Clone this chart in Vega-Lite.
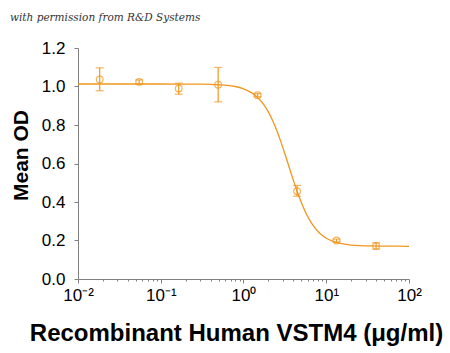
{
  "$schema": "https://vega.github.io/schema/vega-lite/v6.json",
  "width": 331,
  "height": 231,
  "autosize": {"type": "none"},
  "padding": {"left": 78, "top": 48, "right": 41, "bottom": 74},
  "background": "white",
  "title": {
    "text": "with permission from R&D Systems",
    "anchor": "start",
    "frame": "group",
    "dx": -68,
    "offset": 16,
    "font": "DejaVu Serif",
    "fontStyle": "italic",
    "fontWeight": "normal",
    "fontSize": 10.5,
    "color": "#333333"
  },
  "config": {
    "view": {"stroke": null},
    "axis": {
      "grid": false,
      "domainColor": "#808080",
      "tickColor": "#808080",
      "labelFont": "Liberation Sans",
      "titleFont": "Liberation Sans",
      "labelColor": "#000000",
      "titleColor": "#000000"
    }
  },
  "datasets": {
    "curve": [
      {"c": 0.01, "od": 1.013},
      {"c": 0.0316, "od": 1.013},
      {"c": 0.1, "od": 1.013},
      {"c": 0.2512, "od": 1.012},
      {"c": 0.3162, "od": 1.012},
      {"c": 0.3981, "od": 1.011},
      {"c": 0.5012, "od": 1.009},
      {"c": 0.631, "od": 1.006},
      {"c": 0.7943, "od": 1.0},
      {"c": 1.0, "od": 0.988},
      {"c": 1.122, "od": 0.979},
      {"c": 1.259, "od": 0.967},
      {"c": 1.413, "od": 0.951},
      {"c": 1.585, "od": 0.93},
      {"c": 1.778, "od": 0.903},
      {"c": 1.995, "od": 0.868},
      {"c": 2.239, "od": 0.825},
      {"c": 2.512, "od": 0.774},
      {"c": 2.818, "od": 0.715},
      {"c": 3.162, "od": 0.651},
      {"c": 3.548, "od": 0.583},
      {"c": 3.981, "od": 0.516},
      {"c": 4.467, "od": 0.453},
      {"c": 5.012, "od": 0.396},
      {"c": 5.623, "od": 0.347},
      {"c": 6.31, "od": 0.306},
      {"c": 7.079, "od": 0.273},
      {"c": 7.943, "od": 0.247},
      {"c": 8.913, "od": 0.227},
      {"c": 10.0, "od": 0.212},
      {"c": 12.59, "od": 0.193},
      {"c": 15.85, "od": 0.182},
      {"c": 19.95, "od": 0.176},
      {"c": 25.12, "od": 0.173},
      {"c": 31.62, "od": 0.172},
      {"c": 50.12, "od": 0.171},
      {"c": 100.0, "od": 0.17}
    ],
    "pts": [
      {"c": 0.0183, "od": 1.036, "lo": 0.978, "hi": 1.097},
      {"c": 0.0549, "od": 1.024, "lo": 1.014, "hi": 1.034},
      {"c": 0.165, "od": 0.99, "lo": 0.96, "hi": 1.017},
      {"c": 0.494, "od": 1.009, "lo": 0.92, "hi": 1.099},
      {"c": 1.48, "od": 0.955, "lo": 0.947, "hi": 0.963},
      {"c": 4.44, "od": 0.456, "lo": 0.43, "hi": 0.486},
      {"c": 13.3, "od": 0.2, "lo": 0.193, "hi": 0.207},
      {"c": 40.0, "od": 0.172, "lo": 0.155, "hi": 0.188}
    ]
  },
  "layer": [
    {
      "data": {"name": "pts"},
      "mark": {"type": "point", "shape": "circle", "filled": false, "color": "#F0961E", "size": 45, "strokeWidth": 1.2},
      "encoding": {
        "x": {
          "field": "c",
          "type": "quantitative",
          "title": "Recombinant Human VSTM4 (μg/ml)",
          "scale": {"type": "log", "domain": [0.01, 100], "nice": false},
          "axis": {
            "title": "Recombinant Human VSTM4 (μg/ml)",
            "titleFontSize": 24,
            "titleFontWeight": "bold",
            "titlePadding": 18,
            "titleX": 158,
            "values": [0.01, 0.02, 0.03, 0.04, 0.05, 0.06, 0.07, 0.08, 0.09, 0.1, 0.2, 0.3, 0.4, 0.5, 0.6, 0.7, 0.8, 0.9, 1, 2, 3, 4, 5, 6, 7, 8, 9, 10, 20, 30, 40, 50, 60, 70, 80, 90, 100],
            "labelExpr": "datum.value == 0.01 ? '10⁻²' : datum.value == 0.1 ? '10⁻¹' : datum.value == 1 ? '10⁰' : datum.value == 10 ? '10¹' : datum.value == 100 ? '10²' : ''",
            "labelOverlap": false,
            "labelBound": false,
            "labelFlush": false,
            "labelFontSize": 17,
            "labelPadding": 4,
            "tickSize": {"condition": {"test": "indexof([0.01,0.1,1,10,100], datum.value) >= 0", "value": 4}, "value": 2}
          }
        },
        "y": {
          "field": "od",
          "type": "quantitative",
          "title": "Mean OD",
          "scale": {"type": "linear", "domain": [0, 1.2], "nice": false, "zero": true},
          "axis": {
            "title": "Mean OD",
            "titleFontSize": 21,
            "titleFontWeight": "bold",
            "titlePadding": 10,
            "titleY": 107,
            "tickCount": 7,
            "values": [0, 0.2, 0.4, 0.6, 0.8, 1, 1.2],
            "format": ".1f",
            "labelOverlap": false,
            "labelFlush": false,
            "labelBound": false,
            "labelSeparation": 0,
            "labelFontSize": 17,
            "labelPadding": 9,
            "tickSize": 4
          }
        }
      }
    },
    {
      "data": {"name": "curve"},
      "mark": {"type": "line", "color": "#F0961E", "strokeWidth": 1.3, "interpolate": "monotone"},
      "encoding": {
        "x": {"field": "c", "type": "quantitative", "title": "Recombinant Human VSTM4 (μg/ml)"},
        "y": {"field": "od", "type": "quantitative", "title": "Mean OD"}
      }
    },
    {
      "data": {"name": "pts"},
      "mark": {"type": "rule", "color": "#F0961E", "strokeWidth": 1.2},
      "encoding": {
        "x": {"field": "c", "type": "quantitative", "title": "Recombinant Human VSTM4 (μg/ml)"},
        "y": {"field": "lo", "type": "quantitative", "title": "Mean OD"},
        "y2": {"field": "hi"}
      }
    },
    {
      "data": {"name": "pts"},
      "mark": {"type": "tick", "color": "#F0961E", "thickness": 1.2, "size": 8, "orient": "horizontal"},
      "encoding": {
        "x": {"field": "c", "type": "quantitative", "title": "Recombinant Human VSTM4 (μg/ml)"},
        "y": {"field": "lo", "type": "quantitative", "title": "Mean OD"}
      }
    },
    {
      "data": {"name": "pts"},
      "mark": {"type": "tick", "color": "#F0961E", "thickness": 1.2, "size": 8, "orient": "horizontal"},
      "encoding": {
        "x": {"field": "c", "type": "quantitative", "title": "Recombinant Human VSTM4 (μg/ml)"},
        "y": {"field": "hi", "type": "quantitative", "title": "Mean OD"}
      }
    }
  ]
}
